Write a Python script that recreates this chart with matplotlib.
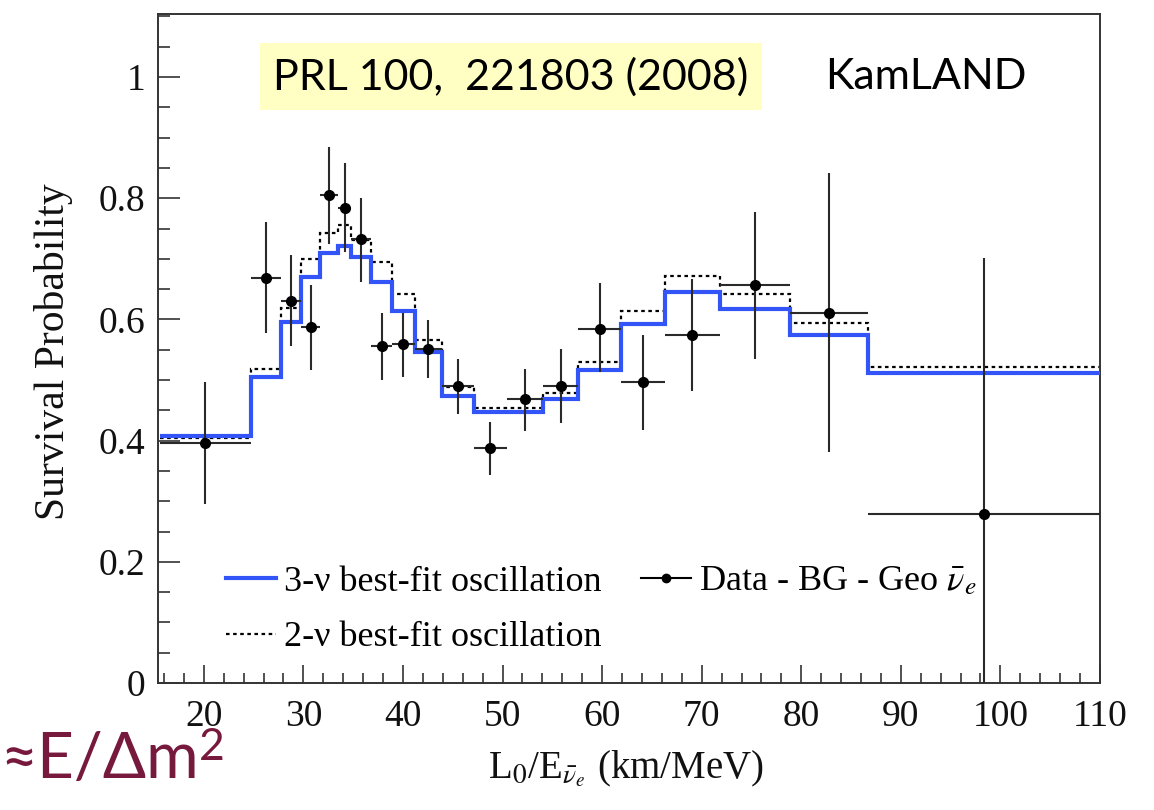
import matplotlib
matplotlib.use("Agg")
import matplotlib.pyplot as plt
from matplotlib.lines import Line2D
from matplotlib.ticker import MultipleLocator, FuncFormatter
import numpy as np

# bin edges (km/MeV), shared by data and predictions
edges = [15.6, 24.7, 27.8, 29.8, 31.7, 33.5, 34.8, 36.8, 38.9, 41.2, 43.9,
         47.1, 50.4, 54.1, 57.6, 61.9, 66.3, 71.8, 78.9, 86.7, 110.0]

# 3-nu best fit (blue) and 2-nu best fit (dotted), one value per bin
fit3 = [0.408, 0.505, 0.596, 0.670, 0.710, 0.721, 0.703, 0.662, 0.614, 0.547,
        0.474, 0.448, 0.448, 0.469, 0.516, 0.592, 0.646, 0.618, 0.575, 0.511]
fit2 = [0.405, 0.518, 0.619, 0.700, 0.742, 0.756, 0.731, 0.694, 0.642, 0.566,
        0.489, 0.454, 0.454, 0.478, 0.530, 0.614, 0.672, 0.642, 0.594, 0.522]

# data - BG - geo
data_y = [0.396, 0.669, 0.631, 0.588, 0.805, 0.784, 0.733, 0.556, 0.559, 0.552,
          0.490, 0.387, 0.468, 0.490, 0.585, 0.497, 0.574, 0.657, 0.611, 0.279]
data_hi = [0.496, 0.760, 0.706, 0.656, 0.884, 0.858, 0.800, 0.611, 0.611, 0.599,
           0.535, 0.431, 0.518, 0.551, 0.660, 0.575, 0.666, 0.778, 0.842, 0.702]
data_lo = [0.296, 0.578, 0.556, 0.517, 0.725, 0.712, 0.662, 0.500, 0.505, 0.504,
           0.444, 0.344, 0.416, 0.429, 0.513, 0.418, 0.482, 0.534, 0.382, -0.14]

xticks = [20, 30, 40, 50, 60, 70, 80, 90, 100, 110]
yticks = [0, 0.2, 0.4, 0.6, 0.8, 1.0]

plt.rcParams['font.family'] = ['Liberation Serif', 'DejaVu Serif']
plt.rcParams['mathtext.fontset'] = 'stix'

fig = plt.figure(figsize=(11.54, 8.10), dpi=100)
ax = fig.add_axes([0.1369, 0.1568, 0.8163, 0.8259])

e = np.array(edges)
xc = (e[:-1] + e[1:]) / 2
xw = (e[1:] - e[:-1]) / 2
y = np.array(data_y)

ax.stairs(fit2, edges, baseline=None, color='k', lw=1.6, ls=(0, (1.6, 1.6)), zorder=2)
ax.stairs(fit3, edges, baseline=None, color='#3355f8', lw=3.0, zorder=3)
ax.errorbar(xc, y, xerr=xw, yerr=[y - np.array(data_lo), np.array(data_hi) - y],
            fmt='o', color='k', ms=7, ecolor='#2a2a2a', elinewidth=1.5,
            capsize=0, zorder=4)

ax.set_xlim(15.4, 110)
ax.set_ylim(0, 1.104)
ax.set_xticks(xticks)
ax.set_yticks(yticks)
ax.xaxis.set_minor_locator(MultipleLocator(2))
ax.yaxis.set_minor_locator(MultipleLocator(0.05))
ax.yaxis.set_major_formatter(FuncFormatter(lambda v, p: '%g' % v))
ax.tick_params(which='both', direction='in', bottom=True, left=True,
               top=False, right=False, width=1.1, color='#222222',
               labelsize=27, labelcolor='#111111')
ax.tick_params(axis='y', which='major', length=16, pad=9)
ax.tick_params(axis='y', which='minor', length=8.5)
ax.tick_params(axis='x', which='major', length=13, pad=12)
ax.tick_params(axis='x', which='minor', length=7)
for s in ax.spines.values():
    s.set_linewidth(1.4)
    s.set_color('#333333')

ax.set_ylabel('Survival Probability', fontsize=30, color='#111111')
ax.yaxis.set_label_coords(-0.09, 0.495)
ax.set_xlabel(r'L$_0$/E$_{\bar{\nu}_e}$ (km/MeV)', fontsize=28, color='#111111')
ax.xaxis.set_label_coords(0.497, -0.098)

handles = [Line2D([], [], color='#3355f8', lw=3.0),
           Line2D([], [], color='k', lw=1.6, ls=(0, (1.6, 1.6))),
           Line2D([], [], color='k', lw=1.5, marker='o', ms=6)]
labels = ['3-ν best-fit oscillation', '2-ν best-fit oscillation',
          r'Data - BG - Geo $\bar{\nu}_e$']
ax.legend(handles, labels, ncol=2, loc='upper left', bbox_to_anchor=(0.072, 0.176),
          frameon=False, fontsize=26, handlelength=1.4, handletextpad=0.2,
          columnspacing=1.1, labelspacing=0.62, borderpad=0, borderaxespad=0)

ax.text(0.3747, 0.906, 'PRL 100,  221803 (2008)', transform=ax.transAxes,
        family=['Lato', 'DejaVu Sans'], fontsize=31, ha='center', va='center',
        bbox=dict(boxstyle='square,pad=0.32', fc='#ffffc4', ec='none'))
ax.text(0.8153, 0.906, 'KamLAND', transform=ax.transAxes,
        family=['Lato', 'DejaVu Sans'], fontsize=31, ha='center', va='center')

# slide annotation bottom-left, superscript drawn as its own text
t1 = fig.text(0.0, 0.0395, '≈E/Δm', family=['Lato', 'DejaVu Sans'], fontsize=46,
              color='#76193c', ha='left', va='baseline')
ax.annotate('2', xy=(1.0, 0.062), xycoords=(t1, 'figure fraction'),
            family=['Lato', 'DejaVu Sans'], fontsize=32, color='#76193c',
            ha='left', va='baseline', annotation_clip=False)

fig.savefig('out.png', dpi=100)
